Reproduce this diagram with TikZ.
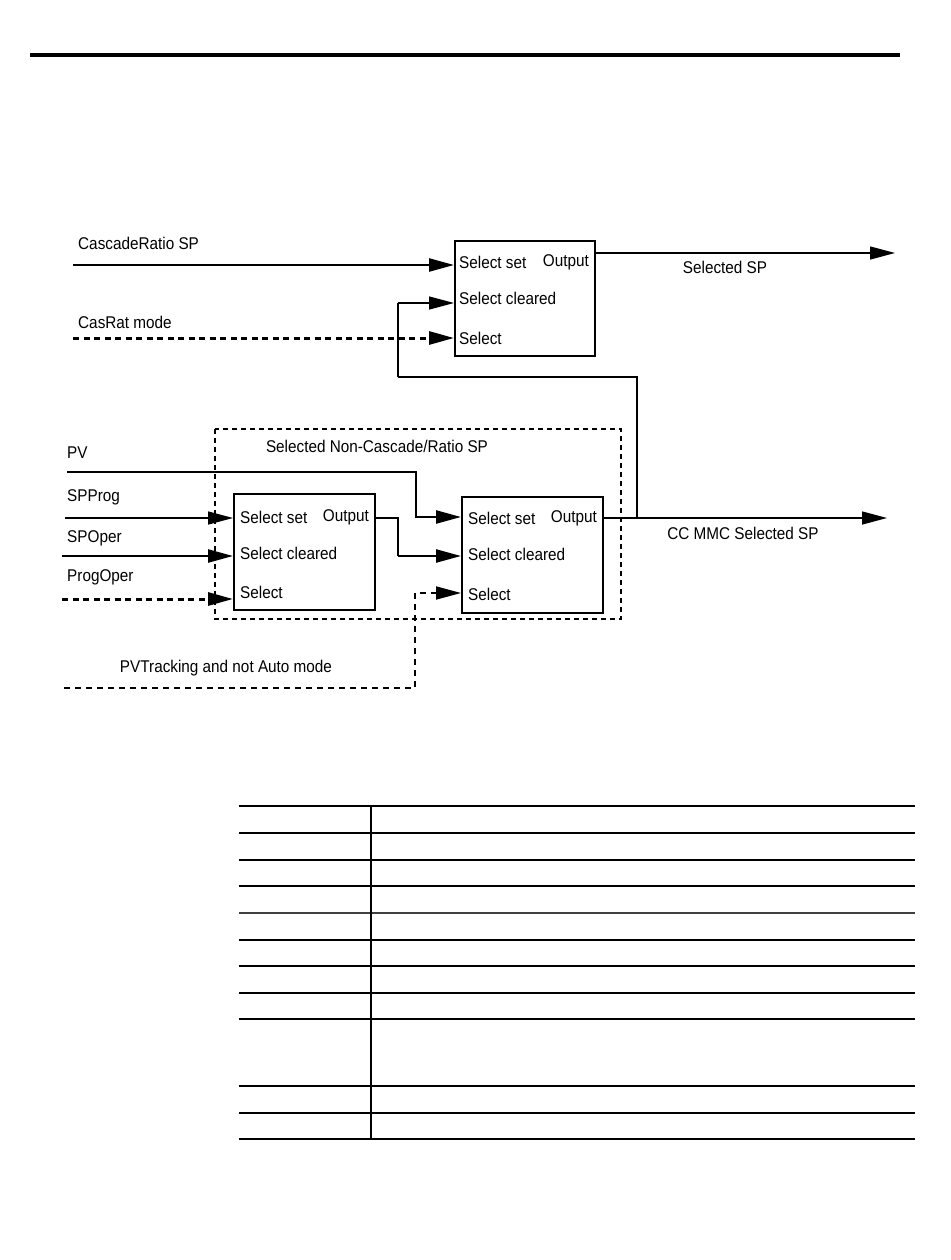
\documentclass[tikz,border=0pt]{standalone}
\usepackage{fontspec}
\setmainfont{Liberation Sans}[FakeStretch=0.9]
\usetikzlibrary{arrows.meta}
\begin{document}
\begin{tikzpicture}[x=1pt,y=-1pt,
  lbl/.style={font=\fontsize{17}{19}\selectfont, inner sep=0pt, anchor=west},
  lblc/.style={font=\fontsize{17}{19}\selectfont, inner sep=0pt},
  lble/.style={font=\fontsize{17}{19}\selectfont, inner sep=0pt, anchor=east},
  blk/.style={draw, line width=1.7pt, inner sep=0pt, anchor=north west},
  arr/.style={-{Triangle[length=25pt,width=13pt]}},
  thickw/.style={line width=2.4pt},
  thinw/.style={line width=1.4pt},
  dsig/.style={line width=3pt, dash pattern=on 6pt off 4.5pt},
  dsig2/.style={line width=1.8pt, dash pattern=on 6pt off 5pt},
  grp/.style={line width=1.4pt, dash pattern=on 5pt off 4pt},
  tbl/.style={line width=1.8pt}]
\useasboundingbox (0,0) rectangle (950,1260);
% top rule
\draw[line width=4.5pt] (30,55) -- (900,55);

% ---------- top selector ----------
\node[blk, minimum width=140pt, minimum height=115pt] (sel) at (454,240) {};
\node[lbl] (selA) at (459,262) {Select set};
\node[lble] (selO) at (589,262) {Output};
\node[lbl] (selB) at (459,298) {Select cleared};
\node[lbl] (selC) at (459,338) {Select};

\node[lbl] (lcr) at (78,243) {CascadeRatio SP};
\node[lbl] (lcm) at (78,322) {CasRat mode};
\coordinate (cr) at (73,265);
\coordinate (cm) at (73,338);
\draw[thickw, arr] (cr) -- (cr -| sel.west);
\draw[dsig, arr] (cm) -- (cm -| sel.west);

\coordinate (so) at (594,253);
\coordinate (soe) at (895,253);
\draw[thinw, arr] (so) -- (soe);
\node[lblc] (lsel) at (725,267) {Selected SP};

% ---------- group ----------
\draw[grp] (215,429) rectangle (621,619);
\node[lblc] (lgrp) at (377,446) {Selected Non-Cascade/Ratio SP};

% box 1
\node[blk, minimum width=141pt, minimum height=116pt] (b1) at (233,493) {};
\node[lbl] (b1A) at (240,517) {Select set};
\node[lble] (b1O) at (369,517) {Output};
\node[lbl] (b1B) at (240,553) {Select cleared};
\node[lbl] (b1C) at (240,592) {Select};

% box 2
\node[blk, minimum width=141pt, minimum height=116pt] (b2) at (461,496) {};
\node[lbl] (b2A) at (468,518) {Select set};
\node[lble] (b2O) at (597,518) {Output};
\node[lbl] (b2B) at (468,554) {Select cleared};
\node[lbl] (b2C) at (468,594) {Select};

% inputs
\node[lbl] (lpv) at (67,453) {PV};
\node[lbl] (lsp) at (67,497) {SPProg};
\node[lbl] (lso) at (67,538) {SPOper};
\node[lbl] (lpo) at (67,577) {ProgOper};
\coordinate (pv) at (67,472);
\coordinate (sp) at (65,518);
\coordinate (sop) at (62,556);
\coordinate (po) at (62,599);
\draw[thickw, arr] (pv) -- (416,472) -- (416,517) -- (b2.west |- 0,517);
\draw[thinw, arr] (sp) -- (sp -| b1.west);
\draw[thickw, arr] (sop) -- (sop -| b1.west);
\draw[dsig, arr] (po) -- (po -| b1.west);

% box1 output to box2 select cleared
\coordinate (b1o) at (374,518);
\draw[thinw] (b1o) -- (398,518) -- (398,556);
\draw[thickw, arr] (398,556) -- (b2.west |- 0,556);

% PV tracking
\node[lblc] (lpvt) at (226,668) {PVTracking and not Auto mode};
\coordinate (pvt) at (64,688);
\draw[dsig2, arr] (pvt) -- (415,688) -- (415,593) -- (b2.west |- 0,593);

% box2 output
\coordinate (b2o) at (602,518);
\coordinate (b2oe) at (887,518);
\draw[thinw, arr] (b2o) -- (b2oe);
\node[lblc] (lcc) at (743,533) {CC MMC Selected SP};

% feedback
\coordinate (j) at (637,518);
\draw[thickw] (j) -- (637,377) -- (398,377);
\draw[thinw] (398,377) -- (398,303);
\draw[thinw, arr] (398,303) -- (sel.west |- 0,303);

% ---------- table ----------
\foreach \yy in {806,833,860,886,940,966,993,1019,1086,1113,1139}
  \draw[tbl] (239,\yy) -- (915,\yy);
\draw[line width=2.6pt, black!75] (239,913) -- (915,913);
\draw[tbl] (371,806) -- (371,1139);
\end{tikzpicture}
\end{document}
